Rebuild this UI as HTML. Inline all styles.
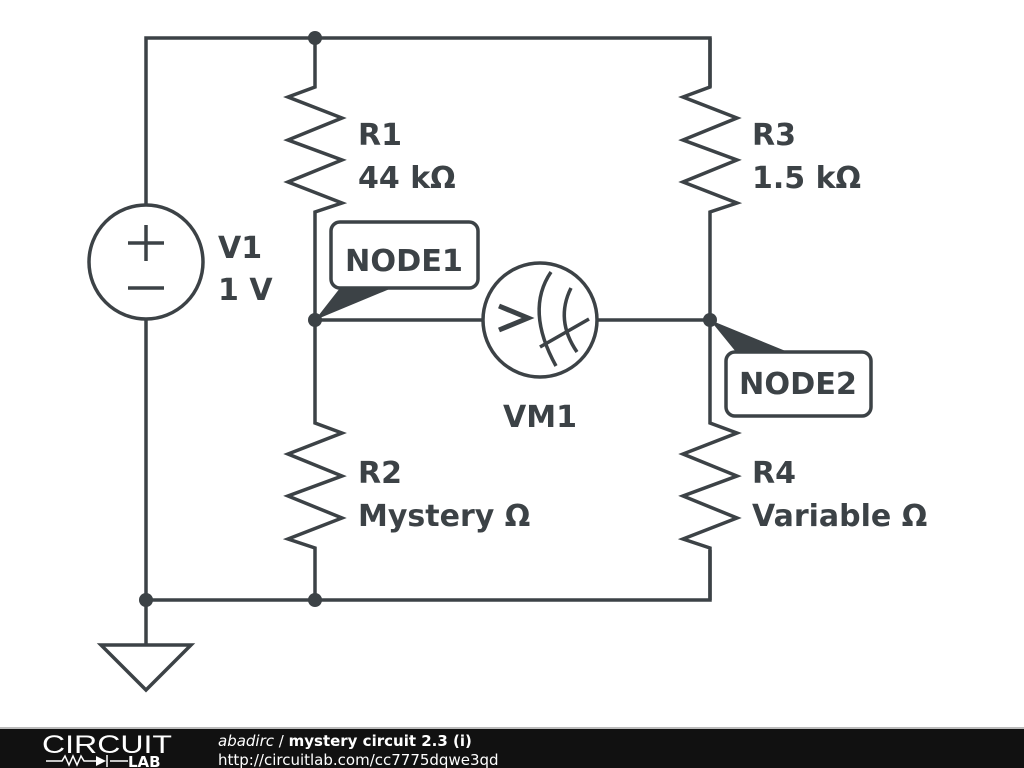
<!DOCTYPE html>
<html><head><meta charset="utf-8"><style>
body{margin:0;width:1024px;height:768px;background:#fff;overflow:hidden}
svg{display:block}
text{font-family:"DejaVu Sans","Liberation Sans",sans-serif;font-weight:bold;fill:#3c4246}
</style></head><body>
<svg width="1024" height="768" viewBox="0 0 1024 768">
<g fill="none" stroke="#3c4246" stroke-width="3.5" stroke-linejoin="miter">
<polyline points="146,205 146,38 710,38 710,87"/>
<polyline points="146,319 146,600 710,600 710,550"/>
<line x1="146" y1="600" x2="146" y2="645"/>
<polygon points="101,645 191,645 146,690"/>
<circle cx="146" cy="262" r="57"/>
<line x1="128" y1="243" x2="164" y2="243"/><line x1="146" y1="225" x2="146" y2="261"/>
<line x1="128" y1="288" x2="164" y2="288"/>
<polyline points="315,38 315,87 288,97 342,118 288,140 342,160 288,182 342,203 315,212 315,320"/>
<polyline points="710,38 710,87 683,97 737,118 683,140 737,160 683,182 737,203 710,212 710,320"/>
<polyline points="315,320 315,423 342,433 288,454 342,476 288,496 342,518 288,539 315,548 315,600"/>
<polyline points="710,320 710,423 737,433 683,454 737,476 683,496 737,518 683,539 710,548 710,600"/>
<line x1="315" y1="320" x2="483" y2="320"/>
<line x1="597" y1="320" x2="710" y2="320"/>
<circle cx="540" cy="320" r="57"/>
<path d="M499,306 L528,318 L499,330" stroke-width="5"/>
<path d="M551,272 Q525,310 556,366"/>
<path d="M571,288 Q555,320 577,352"/>
<line x1="540" y1="347" x2="589" y2="319"/>
<rect x="331" y="222" width="147" height="66" rx="9"/>
<rect x="726" y="352" width="145" height="64" rx="9"/>
</g>
<g fill="#3c4246">
<polygon points="315,320 340,288 392,288"/>
<polygon points="710,320 736,352 788,352"/>
<circle cx="315" cy="38" r="7"/><circle cx="315" cy="320" r="7"/><circle cx="710" cy="320" r="7"/>
<circle cx="146" cy="600" r="7"/><circle cx="315" cy="600" r="7"/>
</g>
<g font-size="30">
<text x="358" y="145">R1</text><text x="358" y="188">44 kΩ</text>
<text x="752" y="145">R3</text><text x="752" y="188">1.5 kΩ</text>
<text x="218" y="258">V1</text><text x="218" y="300">1 V</text>
<text x="358" y="483">R2</text><text x="358" y="526">Mystery Ω</text>
<text x="752" y="483">R4</text><text x="752" y="526">Variable Ω</text>
<text x="540" y="427" text-anchor="middle">VM1</text>
<text x="404" y="271" text-anchor="middle" textLength="118" lengthAdjust="spacingAndGlyphs">NODE1</text>
<text x="798" y="394" text-anchor="middle" textLength="118" lengthAdjust="spacingAndGlyphs">NODE2</text>
</g>
<rect x="0" y="727" width="1024" height="2" fill="#bbb"/>
<rect x="0" y="729" width="1024" height="39" fill="#111"/>
<text x="42" y="753" font-size="25" style="fill:#fff;font-weight:normal;font-family:'Liberation Sans',sans-serif" textLength="130" lengthAdjust="spacingAndGlyphs">CIRCUIT</text>
<g stroke="#fff" stroke-width="1.5" fill="none">
<polyline points="46,761 62,761 65,756 69,765 73,756 77,765 81,756 84,761 96,761"/>
<line x1="110" y1="761" x2="128" y2="761"/>
<line x1="107" y1="755" x2="107" y2="767"/>
</g>
<polygon points="96,756 96,766 106,761" fill="#fff"/>
<text x="128" y="767" font-size="15" style="fill:#fff">LAB</text>
<text x="218" y="746" font-size="15" style="fill:#fff"><tspan font-style="italic" font-weight="normal">abadirc</tspan><tspan font-weight="normal"> / </tspan>mystery circuit 2.3 (i)</text>
<text x="218" y="765" font-size="15" style="fill:#fff;font-weight:normal">http://circuitlab.com/cc7775dqwe3qd</text>
</svg>
</body></html>
